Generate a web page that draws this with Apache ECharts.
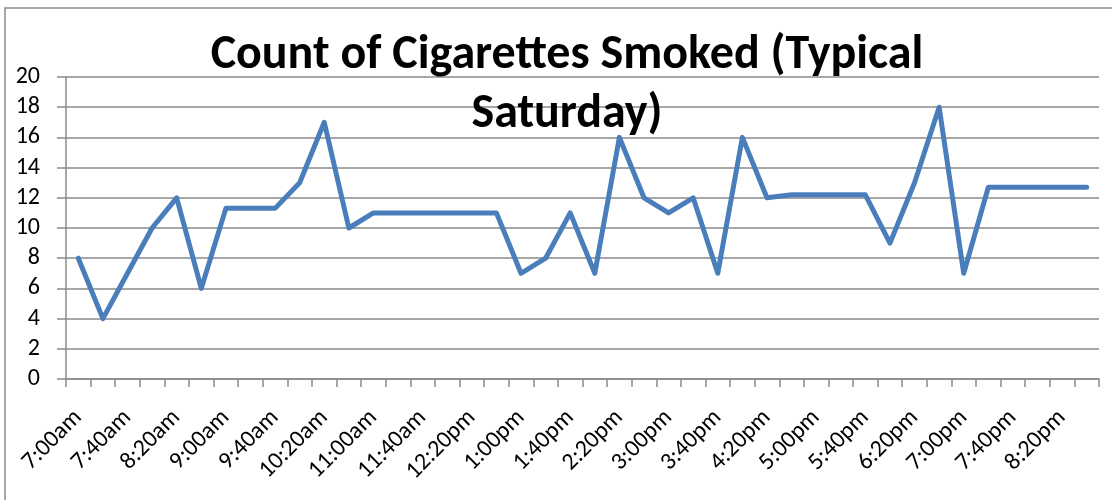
<!DOCTYPE html>
<html>
<head>
<meta charset="utf-8">
<script src="https://cdn.jsdelivr.net/npm/echarts@6/dist/echarts.min.js"></script>
<style>
html,body{margin:0;padding:0;background:#fff;}
#chart{width:1112px;height:500px;}
</style>
</head>
<body>
<div id="chart"></div>
<script>
const titleText = 'Count of Cigarettes Smoked (Typical\nSaturday)';
const categories = ['7:00am','7:20am','7:40am','8:00am','8:20am','8:40am','9:00am','9:20am','9:40am','10:00am',
  '10:20am','10:40am','11:00am','11:20am','11:40am','12:00pm','12:20pm','12:40pm','1:00pm','1:20pm',
  '1:40pm','2:00pm','2:20pm','2:40pm','3:00pm','3:20pm','3:40pm','4:00pm','4:20pm','4:40pm',
  '5:00pm','5:20pm','5:40pm','6:00pm','6:20pm','6:40pm','7:00pm','7:20pm','7:40pm','8:00pm',
  '8:20pm','8:40pm'];
const cigarettes = [8,4,7,10,12,6,11.3,11.3,11.3,13,
  17,10,11,11,11,11,11,11,7,8,
  11,7,16,12,11,12,7,16,12,12.2,
  12.2,12.2,12.2,9,13,18,7,12.7,12.7,12.7,
  12.7,12.7];
const yMin = 0, yMax = 20, yStep = 2;

const FONT = 'Carlito, Lato, "Open Sans", sans-serif';
const chart = echarts.init(document.getElementById('chart'), null, {renderer:'canvas'});
chart.setOption({
  animation:false,
  backgroundColor:'#ffffff',
  graphic:[{
    type:'rect', silent:true, z:-10,
    shape:{x:5, y:8, width:1300, height:700},
    style:{fill:'none', stroke:'#8a8a8a', lineWidth:1.5}
  }],
  title:{
    text:titleText,
    left:562, top:21, textAlign:'center',
    textStyle:{fontFamily:FONT, fontWeight:'bold', fontSize:48, color:'#000', lineHeight:59}
  },
  grid:{left:66, right:13, top:77, bottom:121, containLabel:false},
  xAxis:{
    type:'category', data:categories, boundaryGap:true,
    axisLine:{lineStyle:{color:'#8a8a8a', width:1.5}},
    axisTick:{show:true, interval:0, length:8, lineStyle:{color:'#8a8a8a', width:1.5}},
    axisLabel:{interval:1, rotate:45, margin:35, fontFamily:FONT, fontSize:24, color:'#000'},
    splitLine:{show:false}
  },
  yAxis:{
    type:'value', min:yMin, max:yMax, interval:yStep,
    axisLine:{show:true, lineStyle:{color:'#8a8a8a', width:1.5}},
    axisTick:{show:true, length:9, lineStyle:{color:'#8a8a8a', width:1.5}},
    axisLabel:{margin:26, fontFamily:FONT, fontSize:24, color:'#000'},
    splitLine:{show:true, lineStyle:{color:'#8a8a8a', width:1.5}}
  },
  series:[{
    type:'line', data:cigarettes, showSymbol:false, symbol:'none',
    lineStyle:{color:'#4a7ebb', width:5, join:'round', cap:'round'}
  }]
});
</script>
</body>
</html>
